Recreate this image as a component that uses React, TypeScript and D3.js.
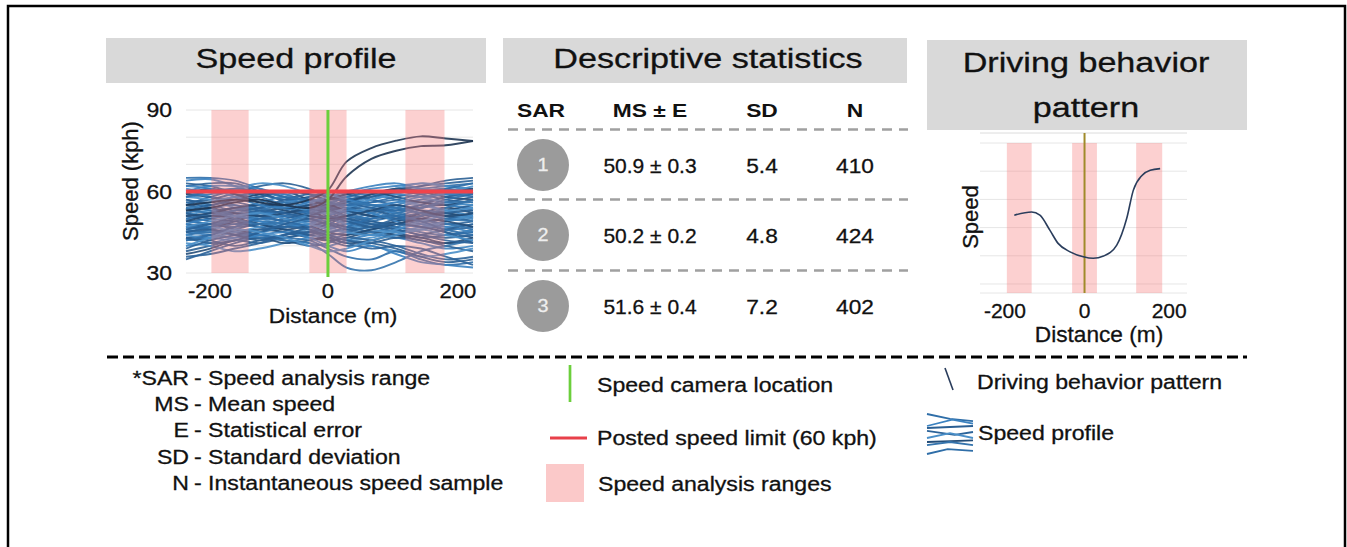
import React from "react";
import * as d3 from "d3";

const FONT = "'Liberation Sans', Arial, Helvetica, sans-serif";

// speed profile: each trace is speed (kph) read at these distances (m)
const traceX = [-229, -190, -150, -110, -70, -30, 0, 30, 70, 110, 150, 190, 234];
const traces = [
  [65, 65, 64, 61, 58, 55, 54, 56, 58, 60, 61, 62, 63],
  [64, 64.5, 62, 59, 57, 56, 57, 59, 61, 62, 63, 62, 61],
  [63, 62, 60, 62, 63, 61, 58, 57, 59, 61, 62, 64, 65],
  [62, 63, 63, 60, 56, 52, 50, 53, 57, 60, 62, 63, 64],
  [61, 60, 61, 63, 62, 59, 56, 55, 58, 61, 63, 62, 60],
  [59, 58, 57, 58, 60, 59, 57, 58, 60, 59, 58, 60, 61],
  [58, 59, 60, 58, 55, 53, 55, 58, 59, 57, 56, 58, 59],
  [57, 56, 58, 60, 59, 56, 53, 54, 56, 58, 60, 61, 59],
  [60, 58, 55, 54, 56, 58, 59, 58, 55, 54, 57, 59, 58],
  [56, 57, 59, 57, 54, 52, 54, 57, 58, 60, 59, 57, 56],
  [55, 58, 60, 59, 57, 58, 60, 59, 57, 55, 54, 56, 58],
  [58, 57, 54, 52, 53, 55, 56, 55, 57, 59, 61, 60, 62],
  [54, 55, 57, 59, 60, 57, 55, 56, 59, 61, 60, 58, 57],
  [53, 52, 50, 51, 53, 55, 54, 52, 50, 52, 54, 55, 53],
  [52, 54, 55, 53, 50, 49, 51, 53, 55, 54, 52, 50, 51],
  [50, 51, 53, 55, 54, 52, 50, 49, 51, 54, 56, 55, 54],
  [51, 49, 48, 50, 52, 53, 52, 50, 48, 49, 51, 53, 55],
  [49, 50, 52, 51, 49, 47, 48, 51, 53, 52, 50, 48, 49],
  [54, 53, 51, 49, 48, 50, 53, 55, 54, 52, 49, 47, 48],
  [48, 47, 49, 52, 54, 53, 50, 48, 47, 49, 52, 54, 52],
  [52, 51, 52, 54, 56, 54, 51, 50, 52, 55, 57, 56, 55],
  [50, 52, 54, 53, 51, 50, 49, 47, 49, 51, 53, 52, 50],
  [47, 48, 50, 52, 51, 49, 47, 48, 50, 53, 55, 53, 51],
  [53, 55, 56, 54, 52, 51, 53, 54, 53, 51, 49, 50, 52],
  [49, 48, 47, 48, 50, 52, 54, 53, 51, 50, 48, 46, 47],
  [51, 53, 52, 50, 48, 47, 49, 52, 54, 56, 55, 53, 54],
  [55, 54, 52, 51, 52, 54, 55, 53, 51, 50, 51, 52, 50],
  [46, 45, 47, 49, 48, 46, 45, 46, 48, 47, 45, 44, 46],
  [44, 46, 48, 47, 45, 44, 46, 48, 49, 47, 46, 48, 47],
  [45, 44, 43, 45, 47, 48, 47, 45, 44, 46, 48, 47, 45],
  [47, 48, 46, 44, 43, 45, 48, 47, 45, 43, 44, 46, 48],
  [43, 44, 46, 48, 46, 44, 43, 44, 46, 48, 47, 45, 43],
  [46, 47, 45, 43, 44, 46, 44, 42, 43, 45, 47, 49, 50],
  [42, 43, 45, 46, 45, 43, 42, 43, 45, 44, 42, 41, 43],
  [48, 46, 44, 45, 47, 49, 48, 46, 45, 47, 49, 48, 46],
  [45, 47, 49, 48, 46, 45, 47, 49, 47, 45, 43, 44, 45],
  [40, 41, 43, 44, 42, 41, 40, 42, 44, 43, 41, 39, 40],
  [38, 40, 42, 41, 43, 44, 42, 40, 41, 43, 42, 40, 38],
  [35, 38, 41, 43, 42, 40, 41, 43, 42, 40, 37, 35, 36],
  [41, 40, 38, 39, 41, 43, 44, 42, 40, 38, 36, 37, 39],
  [37, 39, 42, 43, 41, 42, 43, 41, 42, 44, 43, 41, 42],
  [44, 45, 44, 43, 42, 41, 37, 32, 31, 34, 38, 40, 42],
  [47, 46, 45, 44, 43, 42, 39, 36, 35, 38, 35, 33, 34],
  [42, 43, 42, 44, 45, 43, 40, 38, 40, 37, 34, 33, 32],
  [43, 42, 40, 42, 44, 45, 44, 42, 41, 39, 36, 34, 35],
  [57, 55, 53, 54, 57, 59, 58, 56, 54, 53, 55, 58, 60],
  [53, 56, 58, 57, 55, 53, 52, 54, 57, 59, 58, 56, 55],
  [59, 61, 59, 56, 54, 55, 57, 59, 60, 58, 56, 55, 57],
  [50, 48, 50, 53, 55, 57, 56, 54, 52, 50, 51, 54, 57],
  [56, 54, 51, 50, 51, 53, 56, 57, 55, 53, 54, 57, 59],
  [48, 50, 51, 49, 47, 48, 51, 53, 52, 49, 47, 49, 52],
  [52, 50, 49, 47, 49, 51, 53, 51, 49, 48, 50, 52, 53],
  [46, 48, 51, 53, 52, 50, 48, 46, 47, 50, 52, 51, 49],
  [44, 43, 45, 47, 49, 51, 50, 48, 46, 45, 46, 49, 51],
  [49, 51, 50, 48, 46, 47, 45, 44, 46, 48, 50, 49, 47],
  [54, 52, 53, 56, 58, 56, 53, 51, 50, 52, 54, 56, 56],
  [58, 60, 61, 60, 58, 57, 56, 55, 56, 57, 59, 61, 63],
  [60, 62, 62, 61, 59, 60, 59, 57, 55, 56, 58, 59, 60],
  [45, 46, 44, 42, 44, 47, 49, 50, 48, 46, 44, 43, 44],
  [39, 42, 44, 46, 47, 46, 44, 45, 47, 46, 44, 42, 41],
  [47, 49, 51, 52, 50, 48, 46, 45, 44, 46, 49, 51, 50],
  [51, 52, 54, 55, 53, 51, 50, 51, 53, 55, 53, 51, 52],
  [55, 53, 50, 48, 49, 52, 55, 56, 55, 54, 52, 50, 49],
  [42, 44, 47, 50, 49, 47, 45, 47, 50, 51, 49, 46, 44],
  [62, 61, 58, 55, 54, 56, 58, 60, 62, 63, 61, 59, 60],
  [43, 41, 42, 45, 48, 50, 51, 49, 47, 48, 47, 45, 41],
  [36, 37, 39, 41, 44, 45, 43, 41, 39, 40, 39, 36, 33],
  [40, 43, 46, 45, 43, 40, 38, 39, 42, 44, 46, 44, 42],
  [55, 56, 57, 56, 55, 57, 60.5, 71, 76, 78.7, 80.3, 79.5, 78.6],
  [53, 54, 56, 57, 55, 54, 57, 65.5, 72, 75, 76.7, 77, 78.6],
];
const highTraces = 2; // the last two traces leave the pack after the camera
const traceColors = ["#2f6ea8", "#3b82c0", "#2a5f93", "#2b6399", "#4a8fc8", "#234d78", "#3574ad"];

const sarBands = [[-188, -128], [-30, 30], [125, 188]];
const speedLimit = 60;
const cameraAt = 0;
const speedGrid = [30, 40, 50, 60, 70, 80, 90];
const speedTicks = [30, 60, 90];
const distTicks = [-200, 0, 200];

// descriptive statistics table
const tableHeaders = ["SAR", "MS ± E", "SD", "N"];
const sarIds = ["1", "2", "3"];
const msE = ["50.9 ± 0.3", "50.2 ± 0.2", "51.6 ± 0.4"];
const sdVals = ["5.4", "4.8", "7.2"];
const nVals = ["410", "424", "402"];

// driving behavior pattern
const patternX = [-170, -128, -108, -84, -64, -35, -3, 21, 46, 78, 102, 118, 139, 159, 183];
const patternY = [48.88, 49.11, 48.88, 47.82, 46.88, 46.28, 45.93, 45.82, 45.98, 46.76, 48.64, 50.64, 51.7, 52.06, 52.18];
const patternGrid = [44, 46, 48, 50, 52, 54];

// legend
const abbrevs = ["*SAR", "MS", "E", "SD", "N"];
const abbrevText = ["Speed analysis range", "Mean speed", "Statistical error", "Standard deviation", "Instantaneous speed sample"];
const iconLines = [
  [[0, 0.0], [0.5, 0.12], [1, 0.18]],
  [[0, 0.3], [0.55, 0.14], [1, 0.24]],
  [[0, 0.35], [1, 0.3]],
  [[0, 0.42], [0.6, 0.52], [1, 0.45]],
  [[0, 0.6], [0.5, 0.48], [1, 0.6]],
  [[0, 0.7], [1, 0.66]],
  [[0, 0.78], [0.5, 0.7], [1, 0.78]],
  [[0, 1.0], [0.45, 0.88], [1, 0.92]],
];

function T({ x, y, children, size = 21, sx = 1.1, anchor = "start", weight = "normal", fill = "#111", rotate = 0 }: any) {
  const tr = rotate ? `translate(${x},${y}) rotate(${rotate})` : `translate(${x},${y}) scale(${sx},1)`;
  return (
    <text transform={tr} fontSize={size} textAnchor={anchor} fontWeight={weight} fill={fill}
      stroke={fill} strokeWidth={weight === "bold" ? 0 : 0.3} fontFamily={FONT}>
      {children}
    </text>
  );
}

export default function App() {
  // speed profile
  const x = d3.scaleLinear().domain([-229, 234]).range([186, 473]);
  const y = d3.scaleLinear().domain([30, 90]).range([273, 110]);
  const line = d3.line<number>().x((d, i) => x(traceX[i])).y((d) => y(d)).curve(d3.curveCatmullRom.alpha(0.5));

  // behavior pattern
  const xb = d3.scaleLinear().domain([-253, 248]).range([980, 1187]);
  const yb = d3.scaleLinear().domain([43.36, 54]).range([293, 143]);
  const pLine = d3.line<number>().x((d, i) => xb(patternX[i])).y((d) => yb(d)).curve(d3.curveMonotoneX);

  const ix = d3.scaleLinear().domain([0, 1]).range([927, 973]);
  const iy = d3.scaleLinear().domain([0, 1]).range([414, 454]);
  const iconLine = d3.line<number[]>().x((d) => ix(d[0])).y((d) => iy(d[1])).curve(d3.curveLinear);

  const rowY = [165, 235, 306];
  const sepY = [129.5, 199.5, 270.5];
  const colX = [541, 650, 762, 855];
  const bandFill = "rgb(245,120,120)";
  const nTr = traces.length;

  return (
    <svg width={1347} height={547} style={{ position: "absolute", left: 0, top: 0, display: "block" }}>
      <rect x={0} y={0} width={1347} height={547} fill="#fff" />
      <rect x={8} y={6} width={1337} height={600} fill="none" stroke="#000" strokeWidth={2.5} />

      {/* title boxes */}
      <rect x={106} y={38} width={380} height={45} fill="#d9d9d9" />
      <T x={296} y={68} size={28} sx={1.22} anchor="middle">Speed profile</T>
      <rect x={503} y={38} width={404} height={45} fill="#d9d9d9" />
      <T x={708} y={68} size={28} sx={1.22} anchor="middle">Descriptive statistics</T>
      <rect x={927} y={40} width={320} height={90} fill="#d9d9d9" />
      <T x={1086} y={72} size={28} sx={1.22} anchor="middle">Driving behavior</T>
      <T x={1086} y={117} size={28} sx={1.22} anchor="middle">pattern</T>

      {/* speed profile chart */}
      {speedGrid.map((v) => (
        <line key={v} x1={x.range()[0]} x2={x.range()[1]} y1={y(v)} y2={y(v)} stroke="#e6e6e6" strokeWidth={1} />
      ))}
      {traces.map((t, i) => (
        <path key={i} d={line(t) || ""} fill="none"
          stroke={i >= nTr - highTraces ? "#1e3552" : traceColors[i % traceColors.length]}
          strokeWidth={1.9} strokeOpacity={0.9} />
      ))}
      {sarBands.map((b, i) => (
        <rect key={i} x={x(b[0])} y={y(90)} width={x(b[1]) - x(b[0])} height={y(30) - y(90)} fill={bandFill} fillOpacity={0.35} />
      ))}
      <line x1={x.range()[0]} x2={x.range()[1]} y1={y(speedLimit)} y2={y(speedLimit)} stroke="#f0434b" strokeWidth={4} />
      <line x1={x(cameraAt)} x2={x(cameraAt)} y1={y(90)} y2={y(30) + 4} stroke="#6ccf3c" strokeWidth={3} />
      {speedTicks.map((v) => (
        <T key={v} x={172} y={y(v) + 7} size={20} sx={1.15} anchor="end">{v}</T>
      ))}
      {distTicks.map((v) => (
        <T key={v} x={x(v) + (v !== 0 ? 6 : 0)} y={298} size={21} sx={1.05} anchor="middle">{v}</T>
      ))}
      <T x={138} y={181} size={22} rotate={-90} anchor="middle">Speed (kph)</T>
      <T x={333} y={323} size={21} sx={1.08} anchor="middle">Distance (m)</T>

      {/* descriptive statistics table */}
      {tableHeaders.map((h, i) => (
        <T key={h} x={colX[i]} y={117} size={19} sx={1.2} anchor="middle" weight="bold">{h}</T>
      ))}
      {sepY.map((sy, i) => (
        <line key={i} x1={508} x2={908} y1={sy} y2={sy} stroke="#a0a0a0" strokeWidth={2.5} strokeDasharray="10,7" />
      ))}
      {sarIds.map((id, i) => (
        <g key={id}>
          <circle cx={543} cy={rowY[i]} r={26} fill="#9b9b9b" />
          <T x={543} y={rowY[i] + 6} size={18} sx={1.1} anchor="middle" fill="#eeeeee">{id}</T>
          <T x={colX[1]} y={rowY[i] + 8} size={21} sx={1.0} anchor="middle">{msE[i]}</T>
          <T x={colX[2]} y={rowY[i] + 8} size={21} sx={1.08} anchor="middle">{sdVals[i]}</T>
          <T x={colX[3]} y={rowY[i] + 8} size={21} sx={1.08} anchor="middle">{nVals[i]}</T>
        </g>
      ))}

      {/* driving behavior pattern chart */}
      <line x1={980} x2={1187} y1={133} y2={133} stroke="#dcdcdc" strokeWidth={1} />
      {patternGrid.map((v) => (
        <line key={v} x1={xb.range()[0]} x2={xb.range()[1]} y1={yb(v)} y2={yb(v)} stroke="#e6e6e6" strokeWidth={1} />
      ))}
      <line x1={xb.range()[0]} x2={xb.range()[1]} y1={yb.range()[0]} y2={yb.range()[0]} stroke="#e6e6e6" strokeWidth={1} />
      {sarBands.map((b, i) => (
        <rect key={i} x={xb(b[0])} y={yb.range()[1]} width={xb(b[1]) - xb(b[0])} height={yb.range()[0] - yb.range()[1]} fill={bandFill} fillOpacity={0.35} />
      ))}
      <line x1={xb(cameraAt)} x2={xb(cameraAt)} y1={133} y2={293} stroke="#a08a2a" strokeWidth={2} />
      <path d={pLine(patternY) || ""} fill="none" stroke="#2a3d5c" strokeWidth={1.6} />
      {distTicks.map((v) => (
        <T key={v} x={xb(v) + (v < 0 ? 3 : v > 0 ? 2 : 0)} y={318} size={21} sx={1.0} anchor="middle">{v}</T>
      ))}
      <T x={978} y={217} size={22} rotate={-90} anchor="middle">Speed</T>
      <T x={1099} y={342} size={22} sx={1.03} anchor="middle">Distance (m)</T>

      {/* separator */}
      <line x1={107} x2={1247} y1={357} y2={357} stroke="#000" strokeWidth={3} strokeDasharray="11,5" />

      {/* legend: abbreviations */}
      {abbrevs.map((a, i) => (
        <g key={a}>
          <T x={189} y={384.5 + i * 26.4} anchor="end">{a}</T>
          <T x={194} y={384.5 + i * 26.4}>{"- " + abbrevText[i]}</T>
        </g>
      ))}

      {/* legend: symbols */}
      <line x1={570} x2={570} y1={365} y2={402} stroke="#6ccf3c" strokeWidth={2.7} />
      <T x={597} y={392}>Speed camera location</T>
      <line x1={550} x2={587} y1={438} y2={438} stroke="#e8404a" strokeWidth={3} />
      <T x={597} y={444.5}>Posted speed limit (60 kph)</T>
      <rect x={546} y={464} width={38} height={38} fill={bandFill} fillOpacity={0.4} />
      <T x={598} y={491}>Speed analysis ranges</T>

      <line x1={945} x2={953} y1={368} y2={390} stroke="#2a3d5c" strokeWidth={1.6} />
      <T x={977} y={388.5}>Driving behavior pattern</T>
      {iconLines.map((l, i) => (
        <path key={i} d={iconLine(l) || ""} fill="none" stroke={traceColors[i % traceColors.length]} strokeWidth={1.8} />
      ))}
      <T x={978} y={440}>Speed profile</T>
    </svg>
  );
}
